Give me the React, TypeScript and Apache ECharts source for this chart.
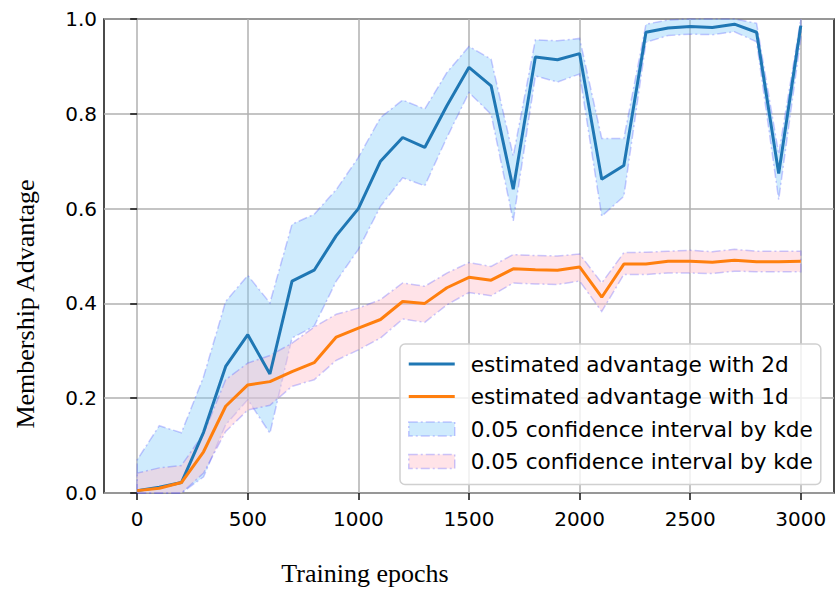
import React, { useEffect, useRef } from "react";
import * as echarts from "echarts";

const epochs = [0, 100, 200, 300, 400, 500, 600, 700, 800, 900, 1000, 1100, 1200, 1300, 1400, 1500, 1600, 1700, 1800, 1900, 2000, 2100, 2200, 2300, 2400, 2500, 2600, 2700, 2800, 2900, 3000];

const adv2d = [0.005, 0.012, 0.022, 0.128, 0.267, 0.334, 0.251, 0.447, 0.470, 0.543, 0.600, 0.700, 0.750, 0.729, 0.817, 0.898, 0.859, 0.641, 0.920, 0.914, 0.927, 0.662, 0.691, 0.972, 0.981, 0.984, 0.982, 0.989, 0.972, 0.674, 0.986];
const lo2d = [0.0, 0.0, 0.0, 0.034, 0.144, 0.197, 0.126, 0.327, 0.352, 0.447, 0.514, 0.605, 0.665, 0.648, 0.750, 0.845, 0.799, 0.574, 0.880, 0.867, 0.884, 0.584, 0.626, 0.951, 0.965, 0.968, 0.967, 0.973, 0.952, 0.619, 0.960];
const hi2d = [0.070, 0.142, 0.127, 0.245, 0.404, 0.459, 0.401, 0.567, 0.588, 0.640, 0.708, 0.792, 0.829, 0.810, 0.887, 0.942, 0.915, 0.711, 0.956, 0.954, 0.959, 0.748, 0.748, 0.989, 0.998, 1.0, 1.0, 1.0, 0.991, 0.715, 1.0];

const adv1d = [0.005, 0.010, 0.022, 0.087, 0.183, 0.228, 0.235, 0.256, 0.275, 0.329, 0.348, 0.366, 0.404, 0.400, 0.433, 0.455, 0.449, 0.473, 0.471, 0.470, 0.477, 0.413, 0.483, 0.483, 0.489, 0.489, 0.487, 0.491, 0.488, 0.488, 0.489];
const lo1d = [0.0, 0.0, 0.0, 0.042, 0.130, 0.175, 0.185, 0.225, 0.239, 0.280, 0.302, 0.327, 0.367, 0.360, 0.397, 0.423, 0.416, 0.443, 0.441, 0.440, 0.447, 0.383, 0.461, 0.461, 0.464, 0.464, 0.463, 0.468, 0.467, 0.467, 0.467];
const hi1d = [0.042, 0.053, 0.058, 0.125, 0.239, 0.274, 0.290, 0.316, 0.350, 0.377, 0.390, 0.408, 0.443, 0.436, 0.464, 0.486, 0.478, 0.503, 0.501, 0.500, 0.504, 0.443, 0.507, 0.508, 0.510, 0.512, 0.509, 0.514, 0.510, 0.510, 0.510];

const xTicks = [0, 500, 1000, 1500, 2000, 2500, 3000];

const NAME_2D = "estimated advantage with 2d";
const NAME_1D = "estimated advantage with 1d";
const NAME_B1 = "0.05 confidence interval by kde";
const NAME_B2 = "0.05 confidence interval by kde ";

const BLUE_FILL = "rgba(135,206,250,0.4)";
const PINK_FILL = "rgba(255,192,203,0.45)";
const EDGE = "rgba(70,70,255,0.28)";
const DASH = [9, 3, 2, 3];
const LINE_ICON = "path://M0,0 h46 v3 h-46 z";

export default function App() {
  const ref = useRef<HTMLDivElement>(null);
  useEffect(() => {
    document.body.style.margin = "0";
    const chart = echarts.init(ref.current!, null, { renderer: "svg" });

    const band = (name: string, lo: number[], hi: number[], fill: string) => ({
      type: "custom",
      name,
      z: 1,
      itemStyle: { color: fill },
      data: epochs.map((e, i) => [e, lo[i], hi[i]]),
      encode: { x: 0, y: [1, 2] },
      renderItem: (params: any, api: any) => {
        if (params.dataIndex !== 0) return null;
        const pts: number[][] = [];
        for (let i = 0; i < epochs.length; i++) pts.push(api.coord([epochs[i], lo[i]]));
        for (let i = epochs.length - 1; i >= 0; i--) pts.push(api.coord([epochs[i], hi[i]]));
        return {
          type: "polygon",
          shape: { points: pts },
          style: { fill, stroke: EDGE, lineWidth: 1.5, lineDash: DASH },
        };
      },
    });

    chart.setOption({
      animation: false,
      grid: {
        left: 104,
        right: 2,
        top: 19,
        bottom: 97,
        show: true,
        borderColor: "#111",
        borderWidth: 1.5,
        backgroundColor: "transparent",
      },
      xAxis: {
        type: "value",
        min: -150,
        max: 3150,
        axisLine: { show: false },
        axisTick: { show: true, length: 7, lineStyle: { color: "#111", width: 1.5 }, customValues: xTicks },
        axisLabel: {
          customValues: xTicks,
          color: "#000",
          fontSize: 20,
          fontFamily: "DejaVu Sans",
          margin: 16,
          formatter: (v: number) => String(v),
        },
        splitLine: { show: true, lineStyle: { color: "#b0b0b0", width: 1.5 } },
      },
      yAxis: {
        type: "value",
        min: 0,
        max: 1,
        interval: 0.2,
        axisLine: { show: false },
        axisTick: { show: true, length: 7, lineStyle: { color: "#111", width: 1.5 } },
        axisLabel: {
          color: "#000",
          fontSize: 20,
          fontFamily: "DejaVu Sans",
          margin: 7,
          formatter: (v: number) => v.toFixed(1),
        },
        splitLine: { show: true, lineStyle: { color: "#b0b0b0", width: 1.5 } },
      },
      legend: {
        orient: "vertical",
        left: 400,
        top: 344,
        padding: [9, 8, 12, 8],
        itemGap: 10.5,
        itemWidth: 46,
        itemHeight: 14,
        symbolKeepAspect: true,
        backgroundColor: "rgba(255,255,255,0.8)",
        borderColor: "#d0d0d0",
        borderWidth: 1.5,
        borderRadius: 5,
        textStyle: {
          fontFamily: "DejaVu Sans",
          fontSize: 21.6,
          color: "#000",
          lineHeight: 22,
          padding: [0, 0, 0, 11],
        },
        data: [
          { name: NAME_2D, icon: LINE_ICON, itemStyle: { color: "#1f77b4" } },
          { name: NAME_1D, icon: LINE_ICON, itemStyle: { color: "#ff7f0e" } },
          { name: NAME_B1, icon: "rect", itemStyle: { color: BLUE_FILL, borderColor: EDGE, borderWidth: 1.5, borderType: DASH } },
          { name: NAME_B2, icon: "rect", itemStyle: { color: PINK_FILL, borderColor: EDGE, borderWidth: 1.5, borderType: DASH } },
        ],
        formatter: (n: string) => n.trim(),
      },
      series: [
        band(NAME_B1, lo2d, hi2d, BLUE_FILL),
        band(NAME_B2, lo1d, hi1d, PINK_FILL),
        {
          type: "line",
          name: NAME_2D,
          z: 3,
          symbol: "none",
          data: epochs.map((e, i) => [e, adv2d[i]]),
          lineStyle: { color: "#1f77b4", width: 3 },
          itemStyle: { color: "#1f77b4" },
        },
        {
          type: "line",
          name: NAME_1D,
          z: 3,
          symbol: "none",
          data: epochs.map((e, i) => [e, adv1d[i]]),
          lineStyle: { color: "#ff7f0e", width: 3 },
          itemStyle: { color: "#ff7f0e" },
        },
      ],
      graphic: [
        {
          type: "text",
          x: 365,
          y: 573,
          style: {
            text: "Training epochs",
            font: '26px "Liberation Serif"',
            fill: "#000",
            textAlign: "center",
            textVerticalAlign: "middle",
          },
        },
        {
          type: "text",
          x: 25,
          y: 304,
          rotation: Math.PI / 2,
          style: {
            text: "Membership Advantage",
            font: '26px "Liberation Serif"',
            fill: "#000",
            textAlign: "center",
            textVerticalAlign: "middle",
          },
        },
      ],
    });
    return () => chart.dispose();
  }, []);
  return <div ref={ref} style={{ width: 836, height: 590 }} />;
}
